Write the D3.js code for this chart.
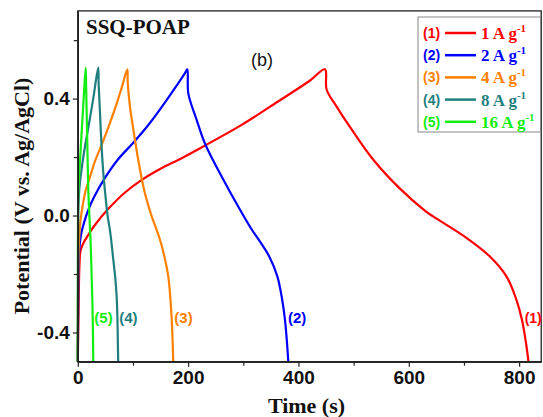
<!DOCTYPE html>
<html><head><meta charset="utf-8">
<script src="https://cdn.jsdelivr.net/npm/d3@7"></script>
<style>html,body{margin:0;padding:0;background:#fff;}svg{display:block;}</style>
</head><body>
<svg id="c" width="543" height="417"></svg>
<script>
// ---- data ----
const seriesNames = ["(1)", "(2)", "(3)", "(4)", "(5)"];
const currentLabels = ["1", "2", "4", "8", "16"];
const colors = ["#ff0000", "#0000ff", "#ff8000", "#1f7f7f", "#11ee11"];

const t1 = [0,1.5,3,5,10,19,30,55,85,116,150,190,231,297,363,421,448,451,470,493,536,584,629,644,705,747,777,795,805,812,817];
const v1 = [-0.5,-0.3,-0.17,-0.12,-0.095,-0.066,-0.035,0.022,0.078,0.122,0.16,0.198,0.24,0.31,0.39,0.462,0.5,0.431,0.37,0.304,0.19,0.092,0.017,-0.003,-0.077,-0.14,-0.208,-0.288,-0.356,-0.43,-0.5];

const t2 = [0,1,2.5,5.8,12,19,30,47,72,101,130,161,194,198.5,200.3,215,231,261,291,315,326,347,361.7,370.5,375.5,379,381.6];
const v2 = [-0.5,-0.25,-0.12,-0.066,-0.02,0.019,0.065,0.122,0.19,0.25,0.315,0.395,0.486,0.5,0.418,0.33,0.244,0.133,0.03,-0.047,-0.077,-0.14,-0.208,-0.288,-0.356,-0.43,-0.5];

const t3 = [0,0.6,1.5,3,5,8.5,13.5,21,32,45,58,70,80,89.7,90.5,94.7,99.9,109.6,119.7,127,134,148,157,164,168,170.3,171.9,173];
const v3 = [-0.5,-0.25,-0.12,-0.06,-0.015,0.03,0.08,0.125,0.19,0.25,0.315,0.38,0.44,0.5,0.455,0.37,0.304,0.19,0.092,0.04,-0.003,-0.077,-0.14,-0.208,-0.288,-0.356,-0.43,-0.5];

const t4 = [0,0.3,0.8,2,4,7,12,19,28,37,37.8,40,43,46.5,50,54,59,64,68,70.5,71.8,72.6,73.2];
const v4 = [-0.5,-0.2,0.0,0.07,0.115,0.16,0.225,0.3,0.4,0.506,0.45,0.36,0.24,0.14,0.07,0.0,-0.06,-0.145,-0.215,-0.28,-0.35,-0.43,-0.5];

const t5 = [0,0.3,1,5,10,14.3,15,16,17.5,19,21,23,25,26.5,27.3,28];
const v5 = [-0.5,-0.1,0.077,0.22,0.38,0.506,0.45,0.36,0.22,0.09,0.0,-0.08,-0.2,-0.3,-0.38,-0.5];

const times = [t1, t2, t3, t4, t5];
const potentials = [v1, v2, v3, v4, v5];

const xMajor = [0, 200, 400, 600, 800];
const xMinor = [100, 300, 500, 700];
const yMajor = [-0.4, 0.0, 0.4];
const yMajorLabels = ["-0.4", "0.0", "0.4"];
const yMinor = [-0.2, 0.2, 0.6];
// annotation positions (time, potential) for curve labels
const annotT = [810, 381, 175, 75, 30];
const annotV = [-0.35, -0.35, -0.35, -0.35, -0.35];

// ---- chart ----
const svg = d3.select("#c");
const L = 77.8, R = 541.2, T = 10.9, B = 361.7;
const x = d3.scaleLinear().domain([0, 840]).range([L, R]);
const y = d3.scaleLinear().domain([-0.5, 0.7]).range([B, T]);

const sans = "'Liberation Sans', Arial, sans-serif";
const serif = "'Liberation Serif', 'Times New Roman', serif";

// curves
const line = d3.line().x(d => x(d[0])).y(d => y(d[1])).curve(d3.curveCatmullRom.alpha(0.5));
times.forEach((ts, i) => {
  const pts = ts.map((t, j) => [t, potentials[i][j]]);
  svg.append("path").attr("d", line(pts)).attr("fill", "none")
    .attr("stroke", colors[i]).attr("stroke-width", 2.2).attr("stroke-linejoin", "round");
});

// frame
svg.append("rect").attr("x", L).attr("y", T).attr("width", R - L).attr("height", B - T)
  .attr("fill", "none").attr("stroke", "#222").attr("stroke-width", 1.3);

// axes
const xAxis = d3.axisBottom(x).tickValues(xMajor).tickSize(5).tickSizeOuter(0).tickFormat(d3.format("d"));
const gx = svg.append("g").attr("transform", `translate(0,${B})`).call(xAxis);
const gxm = svg.append("g").attr("transform", `translate(0,${B})`)
  .call(d3.axisBottom(x).tickValues(xMinor).tickSize(4).tickSizeOuter(0).tickFormat(""));
const yAxis = d3.axisLeft(y).tickValues(yMajor).tickSize(5).tickSizeOuter(0)
  .tickFormat((d, i) => yMajorLabels[i]);
const gy = svg.append("g").attr("transform", `translate(${L},0)`).call(yAxis);
const gym = svg.append("g").attr("transform", `translate(${L},0)`)
  .call(d3.axisLeft(y).tickValues(yMinor).tickSize(4).tickSizeOuter(0).tickFormat(""));
[gx, gxm, gy, gym].forEach(g => {
  g.select(".domain").attr("stroke", "#222").attr("stroke-width", 1.3);
  g.selectAll(".tick line").attr("stroke", "#222").attr("stroke-width", 1.2);
  g.selectAll("text").attr("font-family", sans).attr("font-weight", "bold")
    .attr("font-size", 19).attr("fill", "#111");
});
gx.selectAll("text").attr("dy", "0.71em").attr("y", 9);
gy.selectAll("text").attr("x", -8);

// axis titles
svg.append("text").attr("x", (L + R) / 2 - 3).attr("y", 413).attr("text-anchor", "middle")
  .attr("font-family", serif).attr("font-weight", "bold").attr("font-size", 22).attr("fill", "#111")
  .text("Time (s)");
svg.append("text").attr("transform", "translate(29,196) rotate(-90)").attr("text-anchor", "middle")
  .attr("font-family", serif).attr("font-weight", "bold").attr("font-size", 22).attr("fill", "#111")
  .text("Potential (V vs. Ag/AgCl)");

// title & panel label
svg.append("text").attr("x", 86).attr("y", 34).attr("font-family", serif).attr("font-weight", "bold")
  .attr("font-size", 21).attr("fill", "#111").text("SSQ-POAP");
svg.append("text").attr("x", 251).attr("y", 66).attr("font-family", sans)
  .attr("font-size", 18).attr("fill", "#111").text("(b)");

// curve annotations
seriesNames.forEach((n, i) => {
  svg.append("text").attr("x", x(annotT[i])).attr("y", y(annotV[i]))
    .attr("dy", "0.35em").attr("font-family", sans).attr("font-weight", "bold")
    .attr("font-size", i === 0 ? 14 : 15).attr("fill", colors[i]).text(n);
});

// legend
const lg = svg.append("g");
lg.append("rect").attr("x", 418).attr("y", 17).attr("width", 122.5).attr("height", 115)
  .attr("fill", "#fff").attr("stroke", "#888").attr("stroke-width", 1);
seriesNames.forEach((n, i) => {
  const cy = 33 + i * 22.2;
  lg.append("text").attr("x", 423).attr("y", cy).attr("dy", "0.36em")
    .attr("font-family", sans).attr("font-weight", "bold").attr("font-size", 14)
    .attr("fill", colors[i]).text(n);
  lg.append("line").attr("x1", 445).attr("x2", 476).attr("y1", cy).attr("y2", cy)
    .attr("stroke", colors[i]).attr("stroke-width", 2.5);
  const tx = lg.append("text").attr("x", 481).attr("y", cy + 6)
    .attr("font-family", serif).attr("font-weight", "bold").attr("font-size", 17)
    .attr("fill", colors[i]);
  tx.append("tspan").text(currentLabels[i] + " A g");
  tx.append("tspan").attr("dy", -7).attr("font-size", 11).text("-1");
});
</script>
</body></html>
